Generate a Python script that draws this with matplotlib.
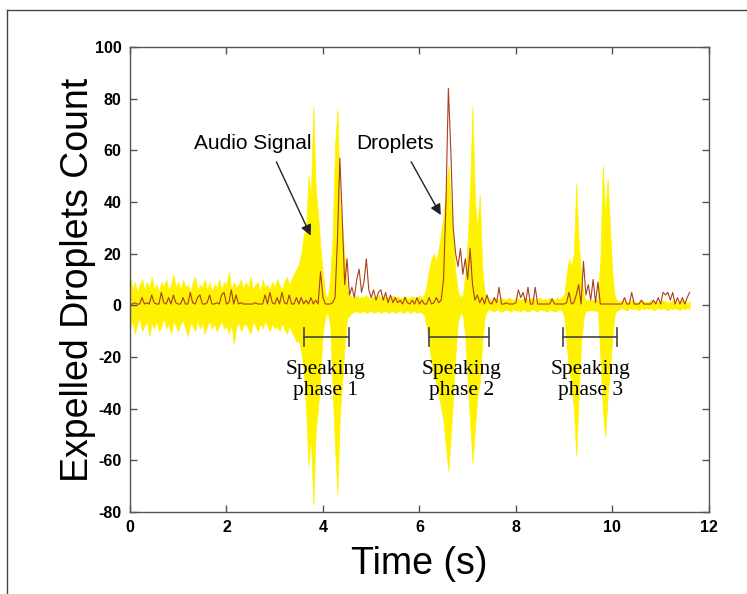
import numpy as np
import matplotlib
matplotlib.use("Agg")
import matplotlib.pyplot as plt
from matplotlib.lines import Line2D

plt.rcParams["axes.unicode_minus"] = False

# sampling step of the read-off values (s)
step = 0.05

# audio signal envelope, upper and lower side
audio_upper = [
    12, 6, 9, 5, 8, 10, 6, 9, 7, 11,
    6, 8, 5, 9, 7, 10, 6, 8, 12, 7,
    9, 6, 10, 7, 8, 5, 9, 11, 6, 8,
    7, 10, 6, 9, 5, 8, 7, 10, 6, 9,
    8, 13, 6, 9, 7, 8, 10, 6, 9, 7,
    11, 6, 8, 9, 5, 10, 7, 8, 6, 9,
    7, 10, 8, 6, 9, 11, 8, 10, 12, 14,
    16, 20, 27, 30, 50, 42, 77, 45, 35, 22,
    12, 4, 3, 10, 27, 62, 76, 40, 30, 18,
    6, 4, 3,
    3, 4, 2.5, 3.5, 3, 4, 2.5, 3, 3.5, 2.5,
    4, 3, 2.5, 3.5, 3, 2.5, 4, 3, 3.5, 2.5,
    3, 4, 2.5, 3, 3.5, 3, 2.5, 4, 3,
    4, 8, 14, 18, 20, 17, 22, 28, 35, 45,
    54, 40, 25, 12, 5, 3, 4, 12, 25, 45,
    77, 40, 30, 43, 15, 5,
    3, 2.5, 2, 3, 2.5, 2, 3, 2.5, 2, 3,
    2.5, 2, 3, 2.5, 2, 2.5, 3, 2, 2.5, 3,
    2, 2.5, 3, 2, 2.5, 2, 3, 2.5, 2, 3,
    2.5, 3,
    4, 12, 18, 15, 20, 47, 25, 12, 4, 2,
    2, 2, 2, 2, 2.5, 18, 54, 35, 49, 30,
    12, 3, 2,
    1.5, 2, 1.5, 1, 1.5, 2, 1.5, 1, 1.5, 2,
    1.5, 1, 1.5, 2, 1.5, 1.5, 1, 1.5, 2, 1.5,
    1, 1.5, 2, 1.5, 1, 1.5, 2, 1.5, 1, 1.5,
]

audio_lower = [
    -9, -6, -11, -7, -5, -10, -8, -6, -12, -7,
    -9, -6, -10, -8, -5, -9, -7, -11, -6, -8,
    -10, -7, -6, -9, -12, -7, -8, -10, -6, -9,
    -7, -11, -8, -6, -9, -7, -10, -8, -6, -9,
    -8, -11, -7, -15, -9, -6, -10, -8, -7, -9,
    -11, -6, -8, -10, -7, -9, -6, -8, -10, -7,
    -9, -8, -10, -7, -9, -11, -8, -10, -12, -14,
    -14, -18, -25, -40, -62, -50, -77, -48, -40, -25,
    -10, -4, -3, -8, -32, -55, -73, -42, -30, -15,
    -5, -4, -3,
    -2.5, -2, -3, -2.5, -2, -3, -2.5, -2, -3, -2.5,
    -2, -3, -2.5, -2, -3, -2.5, -2, -3, -2.5, -2,
    -3, -2.5, -2, -3, -2.5, -2, -3, -2.5, -3,
    -4, -8, -15, -22, -28, -30, -35, -40, -45, -55,
    -64, -50, -35, -18, -6, -3, -4, -12, -30, -45,
    -61, -48, -35, -30, -15, -5,
    -2, -1.5, -2, -2.5, -1.5, -2, -2.5, -2, -1.5, -2,
    -2.5, -1.5, -2, -2, -2.5, -1.5, -2, -2.5, -2, -1.5,
    -2, -2.5, -1.5, -2, -2, -2.5, -1.5, -2, -2.5, -2,
    -1.5, -2,
    -4, -15, -25, -30, -40, -58, -35, -15, -5, -2,
    -2, -2, -2, -2, -2.5, -20, -40, -51, -35, -25,
    -12, -3, -2,
    -1.5, -1, -1.5, -2, -1, -1.5, -1, -1.5, -2, -1,
    -1.5, -1, -1.5, -1, -2, -1.5, -1, -1.5, -1, -1.5,
    -2, -1, -1.5, -1, -1.5, -2, -1, -1.5, -1, -1.5,
]

# expelled droplets count
droplets = [
    0.5, 0.5, 1, 0.5, 0.5, 3, 0.5, 1, 0.5, 4,
    1, 0.5, 0.5, 5, 1, 0.5, 3, 0.5, 4, 1,
    0.5, 0.5, 3, 0.5, 0.5, 5, 1, 0.5, 3, 4,
    0.5, 0.5, 1, 4, 0.5, 0.5, 1, 0.5, 4, 5,
    0.5, 1, 6, 0.5, 4, 0.5, 1, 0.5, 0.5, 0.5,
    0.5, 0.5, 1, 0.5, 0.5, 0.5, 4, 0.5, 5, 1,
    0.5, 3, 0.5, 5, 1, 0.5, 4, 0.5, 0.5, 3,
    0.5, 3, 0.5, 2, 0.5, 3, 0.5, 2, 0.5, 13,
    3, 0.5, 0.5, 0.5, 1, 3, 25, 57, 34, 8,
    18, 4, 7, 3, 10, 14, 5, 9, 18, 6,
    3, 6, 2, 5, 6, 2, 5, 1, 4, 1,
    3, 1, 2, 0.5, 3, 1, 0.5, 2, 0.5, 3,
    0.5, 2, 0.5, 0.5, 3, 0.5, 1, 3, 1, 2,
    10, 40, 84, 60, 30, 20, 15, 22, 12, 18,
    10, 22, 8, 2, 4, 1, 3, 0.5, 4, 1,
    0.5, 3, 1, 7, 0.5, 0.5, 1, 0.5, 0.5, 0.5,
    1, 6, 3, 5, 1, 7, 0.5, 0.5, 7, 0.5,
    0.5, 0.5, 0.5, 0.5, 0.5, 2.5, 0.5, 0.5, 0.5, 0.5,
    0.5, 1, 5, 0.5, 1, 4, 8, 0.5, 17, 4,
    8, 2, 10, 1, 9, 0.5, 0.5, 0.5, 0.5, 0.5,
    0.5, 0.5, 0.5, 0.5, 0.5, 3, 0.5, 0.5, 5, 0.5,
    0.5, 0.5, 2, 0.5, 0.5, 0.5, 0.5, 2, 0.5, 3,
    0.5, 5, 4, 5, 2, 5, 0.5, 3, 0.5, 3,
    0.5, 3, 5,
]

# speaking phases (start, end) in s
phases = [(3.6, 4.55), (6.2, 7.45), (8.97, 10.1)]
phase_labels = ["Speaking\nphase 1", "Speaking\nphase 2", "Speaking\nphase 3"]
phase_text_x = [4.05, 6.87, 9.55]

t_up = np.arange(len(audio_upper)) * step
t_lo = np.arange(len(audio_lower)) * step
t_dr = np.arange(len(droplets)) * step

fig = plt.figure(figsize=(7.47, 5.94), dpi=100)
ax = fig.add_axes([0.174, 0.138, 0.775, 0.783])

yellow = "#fff200"
ax.fill_between(t_up, 0, audio_upper, color=yellow, lw=0.5, edgecolor=yellow)
ax.fill_between(t_lo, 0, audio_lower, color=yellow, lw=0.5, edgecolor=yellow)
ax.plot(t_dr, droplets, color="#a8401e", lw=0.8)

ax.set_xlim(0, 12)
ax.set_ylim(-80, 100)
ax.set_xticks(np.arange(0, 13, 2))
ax.set_yticks(np.arange(-80, 101, 20))

sans = "Liberation Sans"
serif = "Liberation Serif"
ax.tick_params(direction="in", top=True, right=True, length=5, width=1,
               color="#555555", pad=6)
for lab in ax.get_xticklabels() + ax.get_yticklabels():
    lab.set_fontfamily(sans)
    lab.set_fontsize(11.5)
    lab.set_fontweight("bold")
for s in ax.spines.values():
    s.set_color("#555555")
    s.set_linewidth(1)

ax.set_xlabel("Time (s)", fontfamily=sans, fontsize=27)
ax.set_ylabel("Expelled Droplets Count", fontfamily=sans, fontsize=27)
ax.xaxis.set_label_coords(0.5, -0.072)
ax.yaxis.set_label_coords(-0.058, 0.5)

# arrows to the two series
ax.text(2.55, 62.5, "Audio Signal", fontfamily=sans, fontsize=15,
        ha="center", va="center")
ax.annotate("", xy=(3.77, 26), xytext=(3.01, 56.5),
            arrowprops=dict(arrowstyle="-|>", color="#222222", lw=1,
                            mutation_scale=16))
ax.text(5.5, 62.5, "Droplets", fontfamily=sans, fontsize=15,
        ha="center", va="center")
ax.annotate("", xy=(6.47, 34), xytext=(5.8, 56.5),
            arrowprops=dict(arrowstyle="-|>", color="#222222", lw=1,
                            mutation_scale=16))

# speaking phase brackets
for (a, b), lbl, tx in zip(phases, phase_labels, phase_text_x):
    ax.plot([a, b], [-12.3, -12.3], color="#444444", lw=1.2)
    ax.plot([a, a], [-8.8, -15.8], color="#444444", lw=1.2)
    ax.plot([b, b], [-8.8, -15.8], color="#444444", lw=1.2)
    ax.text(tx, -28.8, lbl, fontfamily=serif, fontsize=15.5, ha="center",
            va="center", linespacing=1.15)

# outer frame (left and top edges only show)
fig.add_artist(Line2D([7 / 747, 7 / 747], [0, 1 - 10 / 594],
                      transform=fig.transFigure, color="#444444", lw=1))
fig.add_artist(Line2D([7 / 747, 1], [1 - 10 / 594, 1 - 10 / 594],
                      transform=fig.transFigure, color="#444444", lw=1))

fig.savefig("out.png", dpi=100)
